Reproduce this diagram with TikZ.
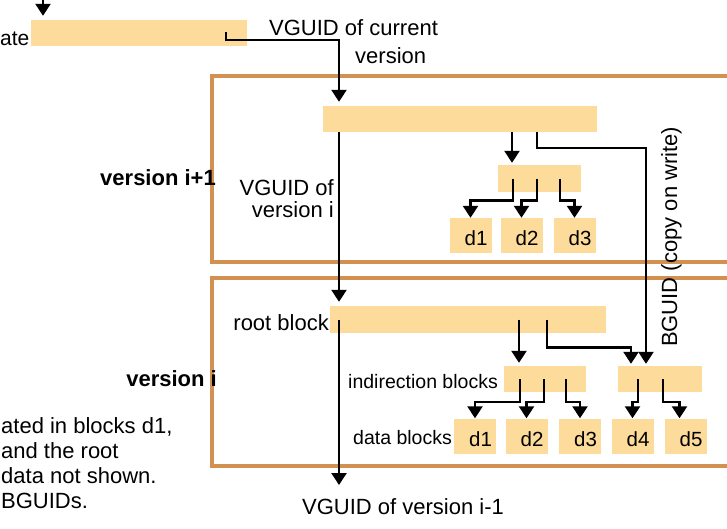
\documentclass[tikz,border=0pt]{standalone}
\usepackage{fontspec}
\setmainfont{Liberation Sans}
\usetikzlibrary{arrows.meta}
\definecolor{blkfill}{RGB}{253,220,155}
\definecolor{frmcol}{RGB}{210,145,80}

\begin{document}
\begin{tikzpicture}[x=1pt,y=-1pt,
        font=\fontsize{22}{24}\selectfont,
        blk/.style={fill=blkfill,inner sep=0pt,minimum height=26pt},
        dblk/.style={fill=blkfill,inner sep=2pt,minimum width=42pt,minimum height=35pt,
                text width=34pt,align=right,text height=21pt,text depth=1pt,
                font=\fontsize{20.5}{22}\selectfont},
        frm/.style={draw=frmcol,line width=4pt},
        arr/.style={line width=2.4pt,-{Triangle[width=15pt,length=12pt]},shorten >=2pt},
        lbl/.style={inner sep=0pt},
        bold/.style={font=\bfseries\fontsize{22}{24}\selectfont}]
        \useasboundingbox (0,0) rectangle (727,528);

        \draw[frm] (212,76) rectangle (745,262);
        \draw[frm] (212,278) rectangle (745,466);

        \node[blk,minimum width=216pt] (tb) at (139,33) {};
        \node[blk,minimum width=274pt] (r1) at (460,119) {};
        \node[blk,minimum width=83pt,minimum height=27pt] (i1) at (539.5,178.5) {};
        \node[dblk] (a1) at (470.5,235.5) {d1};
        \node[dblk] (a2) at (521.5,235.5) {d2};
        \node[dblk] (a3) at (574.5,235.5) {d3};
        \node[blk,minimum width=276pt,minimum height=27pt] (r0) at (468,319.5) {};
        \node[blk,minimum width=82pt] (ib1) at (545,379) {};
        \node[blk,minimum width=84pt] (ib2) at (660,379) {};
        \node[dblk] (b1) at (475,436) {d1};
        \node[dblk] (b2) at (526.5,436) {d2};
        \node[dblk] (b3) at (580,436) {d3};
        \node[dblk] (b4) at (632.5,436) {d4};
        \node[dblk] (b5) at (685.5,436) {d5};

        \node[lbl,anchor=base east,font=\fontsize{21}{24}\selectfont] (upd) at (29.5,45) {ate};
        \node[lbl,anchor=base west] (cur) at (269,35) {VGUID of current};
        \node[lbl,anchor=base west] (cur2) at (355,63) {version};
        \node[lbl,bold,anchor=base east] (vn1) at (216,185) {version i+1};
        \node[lbl,bold,anchor=base east] (vn0) at (217,386) {version i};
        \node[lbl,anchor=north east,align=right,font=\fontsize{22}{22}\selectfont] (vi) at (334,179) {VGUID of\\version i};
        \node[lbl,anchor=base east] (rb) at (329,330) {root block};
        \node[lbl,anchor=base east,font=\fontsize{19.5}{22}\selectfont] (ind) at (498,388) {indirection blocks};
        \node[lbl,anchor=base east,font=\fontsize{19.5}{22}\selectfont] (dat) at (452,444) {data blocks};
        \node[lbl,anchor=base west] (prev) at (302,514) {VGUID of version i-1};
        \node[lbl,anchor=base west,rotate=90] (bg) at (677,347) {BGUID (copy on write)};
        \node[lbl,anchor=north west,align=left,font=\fontsize{22}{25}\selectfont] (note) at (1,417) {ated in blocks d1,\\and the root\\data not shown.\\BGUIDs.};

        \coordinate (in) at (43,0);
        \coordinate (c0) at (226,32);
        \coordinate (v) at (339,40);
        \coordinate (out) at (339,485);

        \draw[arr,shorten >=4pt] (in) -- (in |- tb.north);
        \draw[arr,shorten >=4pt] (c0) |- (v) -- (v |- r1.north);
        \draw[arr,shorten >=4pt] (v |- r1.south) -- (v |- r0.north);
        \draw[arr,shorten >=0pt] (v |- r0.center) -- (out);

        \draw[arr] (r1.south -| 512,0) -- (i1.north -| 512,0);
        \draw[arr] (r1.south -| 537,0) |- (646,148) -- (ib2.north -| 646,0);
        \draw[arr,shorten >=0pt] (i1.center -| 513,0) -- ++(0,22) -| (a1.north);
        \draw[arr,shorten >=0pt] (i1.center -| 537,0) -- ++(0,22) -| (a2.north);
        \draw[arr,shorten >=0pt] (i1.center -| 560,0) -- ++(0,22) -| (a3.north);

        \draw[arr,shorten >=3pt] (r0.center -| 519,0) -- (ib1.north -| 519,0);
        \draw[arr] (r0.center -| 547,0) -- ++(0,28) -| (ib2.north -| 631,0);
        \draw[arr,shorten >=0pt] (ib1.center -| 520,0) -- ++(0,23) -| (b1.north);
        \draw[arr,shorten >=0pt] (ib1.center -| 544,0) -- ++(0,23) -| (b2.north);
        \draw[arr,shorten >=0pt] (ib1.center -| 566,0) -- ++(0,23) -| (b3.north);
        \draw[arr,shorten >=0pt] (ib2.center -| 638,0) -- ++(0,23) -| (b4.north);
        \draw[arr,shorten >=0pt] (ib2.center -| 663,0) -- ++(0,23) -| ([xshift=-6pt]b5.north);
\end{tikzpicture}
\end{document}
